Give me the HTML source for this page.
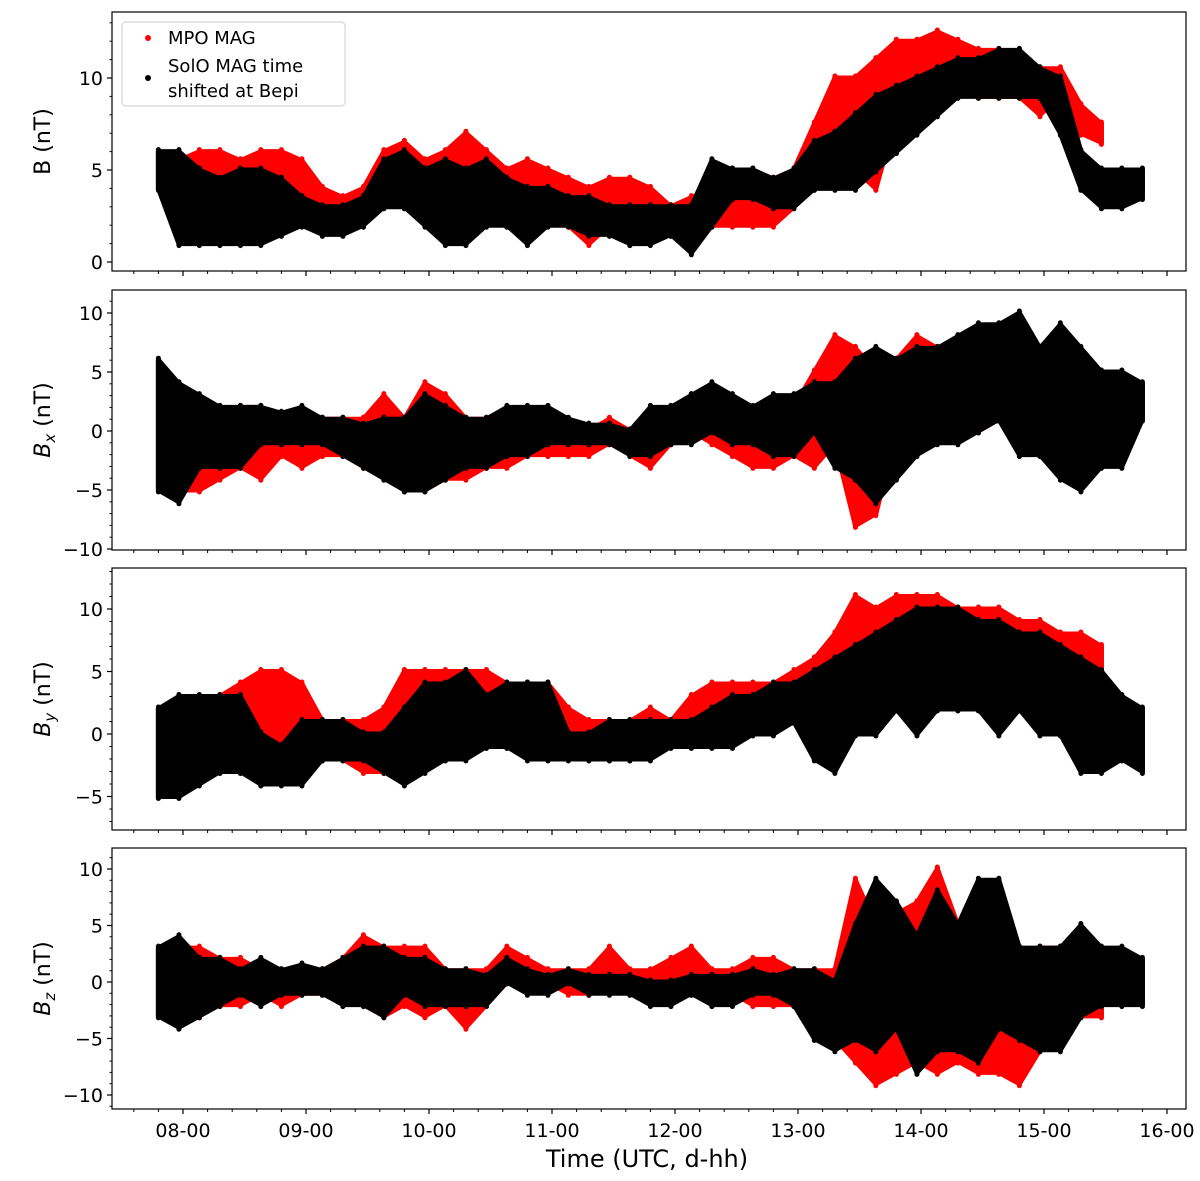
<!DOCTYPE html>
<html><head><meta charset="utf-8"><style>
html,body{margin:0;padding:0;background:#fff;}
svg{display:block;font-family:"DejaVu Sans","Liberation Sans",sans-serif;}
</style></head><body>
<svg id="chart" width="1200" height="1181" viewBox="0 0 1200 1181" xmlns="http://www.w3.org/2000/svg"></svg>
<script>
// ---- data (days, values in nT) ----
const times = [7.8,7.967,8.133,8.3,8.467,8.633,8.8,8.967,9.133,9.3,9.467,9.633,9.8,9.967,10.133,10.3,10.467,10.633,10.8,10.967,11.133,11.3,11.467,11.633,11.8,11.967,12.133,12.3,12.467,12.633,12.8,12.967,13.133,13.3,13.467,13.633,13.8,13.967,14.133,14.3,14.467,14.633,14.8,14.967,15.133,15.3,15.467,15.633,15.8];
const dayTicks = [8,9,10,11,12,13,14,15,16];
const dayTickLabels = ["08-00","09-00","10-00","11-00","12-00","13-00","14-00","15-00","16-00"];

const bSolLo = [4,1,1,1,1,1,1.5,2,1.5,1.5,2,3,3,2,1,1,2,2,1,2,2,1.5,1.5,1,1,1.5,0.5,2,3.5,3.5,3,3,4,4,4,5,6,7,8,9,9,9,9,9,7,4,3,3,3.5];
const bSolHi = [6,6,5,4.5,5,5,4.5,3.5,3,3,3.5,5.5,6,5,5.5,5,5.5,4.5,4,4,3.5,3.5,3,3,3,3,3,5.5,5,5,4.5,5,6.5,7,8,9,9.5,10,10.5,11,11,11.5,11.5,10.5,10,6,5,5,5];
const bMpoLo = [null,3,2,2,2,3,4,3.5,2,2,2,4,3,3,3,3,3,2,2,2.5,2,1,2,1,1.5,1.5,1,2,2,2,2,3,4,6,5,4,8,9,9,10,9,9,9,8,9,7,6.5,null,null];
const bMpoHi = [null,5.5,6,6,5.5,6,6,5.5,4,3.5,4,6,6.5,5.5,6,7,6,5,5.5,5,4.5,4,4.5,4.5,4,3,3.5,4,5,5,4.5,5,7.5,10,10,11,12,12,12.5,12,11.5,11.5,11,10.5,10.5,8.5,7.5,null,null];

const bxSolLo = [-5,-6,-3,-3,-3,-1,-1,-1,-1,-2,-3,-4,-5,-5,-4,-3,-3,-2,-2,-1,-1,-1,-1,-2,-2,-1,-1,0,-1,-1,-2,-2,0,-3,-4,-6,-4,-2,-1,-1,0,1,-2,-2,-4,-5,-3,-3,1];
const bxSolHi = [6,4,3,2,2,2,1.5,2,1,1,0.5,1,1,3,2,1,1,2,2,2,1,0.5,0.5,0,2,2,3,4,3,2,3,3,4,4,6,7,6,7,7,8,9,9,10,7,9,7,5,5,4];
const bxMpoLo = [null,-5,-5,-4,-3,-4,-2,-3,-2,-2,-3,-4,-5,-5,-4,-4,-3,-3,-2,-2,-2,-2,-1,-2,-3,-1,0,-1,-2,-3,-3,-2,-3,-1,-8,-7,0,-2,0,1,0,1,0,0,-1,-1,0,null,null];
const bxMpoHi = [null,2,2,1,2,2,1,1,1,1,1,3,1,4,3,1,1,0,0,1,0,0,1,0,1,2,3,3,2,1,1,2,5,8,7,5,6,8,7,7,7,8,8,7,6,4,3,null,null];

const bySolLo = [-5,-5,-4,-3,-3,-4,-4,-4,-2,-2,-2,-3,-4,-3,-2,-2,-1,-1,-2,-2,-2,-2,-2,-2,-2,-1,-1,-1,-1,0,0,1,-2,-3,0,0,2,0,2,2,2,0,2,0,0,-3,-3,-2,-3];
const bySolHi = [2,3,3,3,3,0,-1,1,1,1,0,0,2,4,4,5,3,4,4,4,0,0,1,1,1,1,1,2,3,3,4,4,5,6,7,8,9,10,10,10,9,9,8,8,7,6,5,3,2];
const byMpoLo = [null,-4,-3,-3,-3,-4,-2,-2,-2,-2,-3,-3,-2,-1,1,0,1,0,1,1,0,-1,-2,-2,0,0,1,2,2,2,1,3,2,5,6,7,8,9,9,8,6,6,6,7,7,6,5,null,null];
const byMpoHi = [null,3,2,3,4,5,5,4,1,1,1,2,5,5,5,5,5,4,4,4,2,1,1,1,2,1,3,4,4,4,4,5,6,8,11,10,11,11,11,10,10,10,9,9,8,8,7,null,null];

const bzSolLo = [-3,-4,-3,-2,-1,-2,-1,-1,-1,-2,-2,-3,-1,-2,-2,-2,-2,0,-1,-1,0,-1,-1,-1,-2,-2,-1,-2,-2,-1,-1,-2,-5,-6,-5,-6,-4,-8,-6,-6,-7,-4,-5,-6,-6,-3,-2,-2,-2];
const bzSolHi = [3,4,2,2,1,2,1,1.5,1,2,3,3,2,2,1,1,0.5,2,1,0.5,1,0.5,0.5,0.5,0,0,0.5,0.5,0.5,1,0.5,1,1,0,5,9,7,4,8,5,9,9,3,3,3,5,3,3,2];
const bzMpoLo = [null,-3,-3,-2,-2,-1,-2,-1,-1,-1,-2,-3,-2,-3,-2,-4,-2,0,0,0,-1,-1,0,-1,-1,0,-1,-2,-1,-2,-2,-2,-3,-5,-7,-9,-8,-7,-8,-7,-8,-8,-9,-6,-4,-3,-3,null,null];
const bzMpoHi = [null,3,3,2,2,1,1,1,1,2,4,3,3,3,1,1,1,3,2,1,1,1,3,1,1,2,3,1,1,2,2,1,1,1,9,5,6,7,10,5,5,4,1,3,3,2,3,null,null];

const panel1Ticks = [0,5,10];
const panel2Ticks = [-10,-5,0,5,10];
const panel3Ticks = [-5,0,5,10];
const panel4Ticks = [-10,-5,0,5,10];

// ---- layout ----
const NS = "http://www.w3.org/2000/svg";
const svg = document.getElementById('chart');
const L = 112, R = 1186;
const xOf = d => 183 + (d - 8) * 123;

function mk(tag, attrs, parent) {
  const e = document.createElementNS(NS, tag);
  for (const k in attrs) e.setAttribute(k, attrs[k]);
  (parent || svg).appendChild(e);
  return e;
}

function band(g, lo, hi, y, color, name) {
  let seg = [];
  const segs = [];
  for (let i = 0; i < times.length; i++) {
    if (lo[i] === null || hi[i] === null) { if (seg.length) segs.push(seg); seg = []; }
    else seg.push(i);
  }
  if (seg.length) segs.push(seg);
  segs.forEach(s => {
    let d = '';
    s.forEach((i, k) => { d += (k ? 'L' : 'M') + xOf(times[i]).toFixed(1) + ',' + y(hi[i]).toFixed(1); });
    for (let k = s.length - 1; k >= 0; k--) { const i = s[k]; d += 'L' + xOf(times[i]).toFixed(1) + ',' + y(lo[i]).toFixed(1); }
    d += 'Z';
    const p = mk('path', {d: d, fill: color, stroke: color, 'stroke-width': 5, 'stroke-linejoin': 'round'}, g);
    
    
    s.forEach(i => {
      const ln = mk('line', {x1: xOf(times[i]), x2: xOf(times[i]), y1: y(hi[i]) - 2, y2: y(lo[i]) + 2, stroke: color, 'stroke-width': 5, 'stroke-linecap': 'round'}, g);
      
      
    });
  });
}

function panel(cfg) {
  const g = mk('g', {});
  
  
  const y = v => cfg.y0 - v * cfg.k;
  const clipId = 'clip-' + cfg.name;
  const cp = mk('clipPath', {id: clipId}, g);
  mk('rect', {x: L, y: cfg.top, width: R - L, height: cfg.bot - cfg.top}, cp);
  const dg = mk('g', {'clip-path': 'url(#' + clipId + ')'}, g);
  
  
  band(dg, cfg.mLo, cfg.mHi, y, '#ff0000', 'mpo-mag-series');
  band(dg, cfg.sLo, cfg.sHi, y, '#000000', 'solo-mag-series');
  const fr = mk('rect', {x: L, y: cfg.top, width: R - L, height: cfg.bot - cfg.top, fill: 'none', stroke: '#000', 'stroke-width': 1.2}, g);
  
  
  // y minor ticks
  const vmin = Math.ceil((cfg.y0 - cfg.bot) / cfg.k), vmax = Math.floor((cfg.y0 - cfg.top) / cfg.k);
  for (let v = vmin; v <= vmax; v++) mk('line', {x1: L - 2.5, x2: L, y1: y(v), y2: y(v), stroke: '#000', 'stroke-width': 1}, g);
  cfg.ticks.forEach(v => {
    mk('line', {x1: L - 5, x2: L, y1: y(v), y2: y(v), stroke: '#000', 'stroke-width': 1.2}, g);
    const t = mk('text', {x: L - 9, y: y(v) + 7, 'text-anchor': 'end', 'font-size': 19}, g);
    t.textContent = v < 0 ? '\u2212' + (-v) : String(v);
    
    
  });
  // x ticks
  dayTicks.forEach(d => {
    mk('line', {x1: xOf(d), x2: xOf(d), y1: cfg.bot, y2: cfg.bot + 5, stroke: '#000', 'stroke-width': 1.2}, g);
    for (let m = 1; m < 5; m++) {
      const xm = xOf(d - m / 5);
      if (xm > L) mk('line', {x1: xm, x2: xm, y1: cfg.bot, y2: cfg.bot + 3, stroke: '#000', 'stroke-width': 1}, g);
    }
  });
  // y label
  const cy = (cfg.top + cfg.bot) / 2;
  const yl = mk('text', {x: 0, y: 0, transform: 'translate(50,' + cy + ') rotate(-90)', 'text-anchor': 'middle', 'font-size': 22}, g);
  
  
  if (cfg.sub) {
    const a = mk('tspan', {'font-style': 'italic'}, yl); a.textContent = 'B';
    const b = mk('tspan', {'font-style': 'italic', 'font-size': 15, dy: 5}, yl); b.textContent = cfg.sub;
    const c = mk('tspan', {dy: -5}, yl); c.textContent = ' (nT)';
  } else yl.textContent = 'B (nT)';
}

panel({name: 'b-panel', top: 12, bot: 271, y0: 262, k: 18.4, ticks: panel1Ticks, sLo: bSolLo, sHi: bSolHi, mLo: bMpoLo, mHi: bMpoHi});
panel({name: 'bx-panel', top: 290, bot: 550, y0: 431, k: 11.8, ticks: panel2Ticks, sub: 'x', sLo: bxSolLo, sHi: bxSolHi, mLo: bxMpoLo, mHi: bxMpoHi});
panel({name: 'by-panel', top: 568, bot: 830, y0: 734, k: 12.5, ticks: panel3Ticks, sub: 'y', sLo: bySolLo, sHi: bySolHi, mLo: byMpoLo, mHi: byMpoHi});
panel({name: 'bz-panel', top: 848, bot: 1109, y0: 982, k: 11.3, ticks: panel4Ticks, sub: 'z', sLo: bzSolLo, sHi: bzSolHi, mLo: bzMpoLo, mHi: bzMpoHi});

dayTicks.forEach((d, i) => {
  const t = mk('text', {x: xOf(d), y: 1137, 'text-anchor': 'middle', 'font-size': 19});
  t.textContent = dayTickLabels[i];
  
  
});
const xt = mk('text', {x: 647, y: 1167, 'text-anchor': 'middle', 'font-size': 24});
xt.textContent = 'Time (UTC, d-hh)';



// legend
const lg = mk('g', {});


mk('rect', {x: 122, y: 22, width: 223, height: 84, rx: 4, fill: '#fff', 'fill-opacity': 0.8, stroke: '#ccc', 'stroke-width': 1}, lg);
const d1 = mk('circle', {cx: 148, cy: 38, r: 3, fill: '#ff0000'}, lg);


const t1 = mk('text', {x: 168, y: 44, 'font-size': 18}, lg);
t1.textContent = 'MPO MAG';


const d2 = mk('circle', {cx: 148, cy: 78, r: 3, fill: '#000'}, lg);


const t2 = mk('text', {x: 168, y: 72, 'font-size': 18}, lg);
t2.textContent = 'SolO MAG time';


const t3 = mk('text', {x: 168, y: 97, 'font-size': 18}, lg);
t3.textContent = 'shifted at Bepi';


</script>
</body></html>
